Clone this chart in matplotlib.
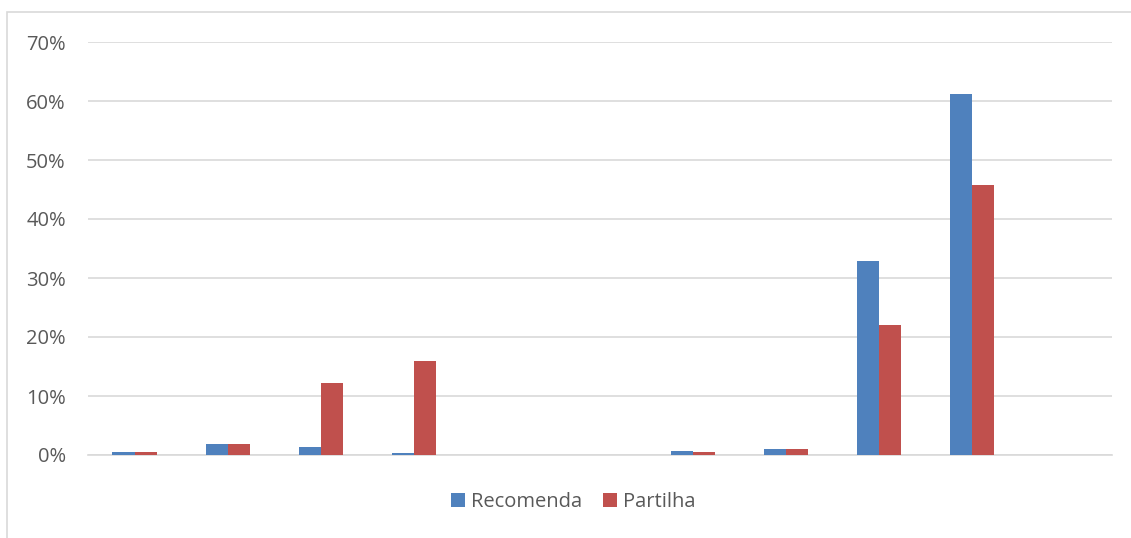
import numpy as np
import matplotlib.pyplot as plt
from matplotlib.patches import Rectangle
from matplotlib.ticker import PercentFormatter

plt.rcParams['font.family'] = ['Open Sans', 'DejaVu Sans']

# data (percent), 11 categories without labels
categories = list(range(11))
recomenda = [0.5, 1.9, 1.3, 0.4, 0, 0, 0.6, 1.1, 32.9, 61.2, 0]
partilha = [0.5, 1.9, 12.2, 16.0, 0, 0, 0.5, 1.1, 22.0, 45.7, 0]

blue = '#4F81BD'
red = '#C0504D'
text_col = '#595959'
grid_col = '#D9D9D9'

fig = plt.figure(figsize=(11.31, 5.38), dpi=100)
ax = fig.add_axes([88/1131, 83/538, 1024/1131, 413/538])

x = np.arange(len(categories))
w = 0.237
ax.bar(x - w/2, recomenda, w, color=blue, label='Recomenda', zorder=3)
ax.bar(x + w/2, partilha, w, color=red, label='Partilha', zorder=3)

ax.set_xlim(-0.5, len(categories) - 0.5)
ax.set_ylim(0, 70)
ax.set_yticks(np.arange(0, 71, 10))
ax.yaxis.set_major_formatter(PercentFormatter(decimals=0))
ax.set_xticks([])

ax.grid(axis='y', color=grid_col, linewidth=1.2, zorder=0)
for s in ['top', 'right', 'left']:
    ax.spines[s].set_visible(False)
ax.spines['bottom'].set_color(grid_col)
ax.spines['bottom'].set_linewidth(1.2)
ax.tick_params(axis='y', length=0, pad=16, labelsize=14.5, labelcolor=text_col)

# legend sits slightly left of centre, as in the original
leg = ax.legend(loc='upper center', bbox_to_anchor=(0.474, -0.045), ncol=2,
                frameon=False, fontsize=14.5, handlelength=0.7,
                handleheight=0.7, handletextpad=0.3, columnspacing=1.0)
for t in leg.get_texts():
    t.set_color(text_col)

# chart area border
fig.patches.append(Rectangle((7/1131, -0.1), 1.2, (538 - 12)/538 + 0.1,
                             transform=fig.transFigure, fill=False,
                             edgecolor=grid_col, linewidth=1.2))

fig.savefig('out.png', dpi=100)
